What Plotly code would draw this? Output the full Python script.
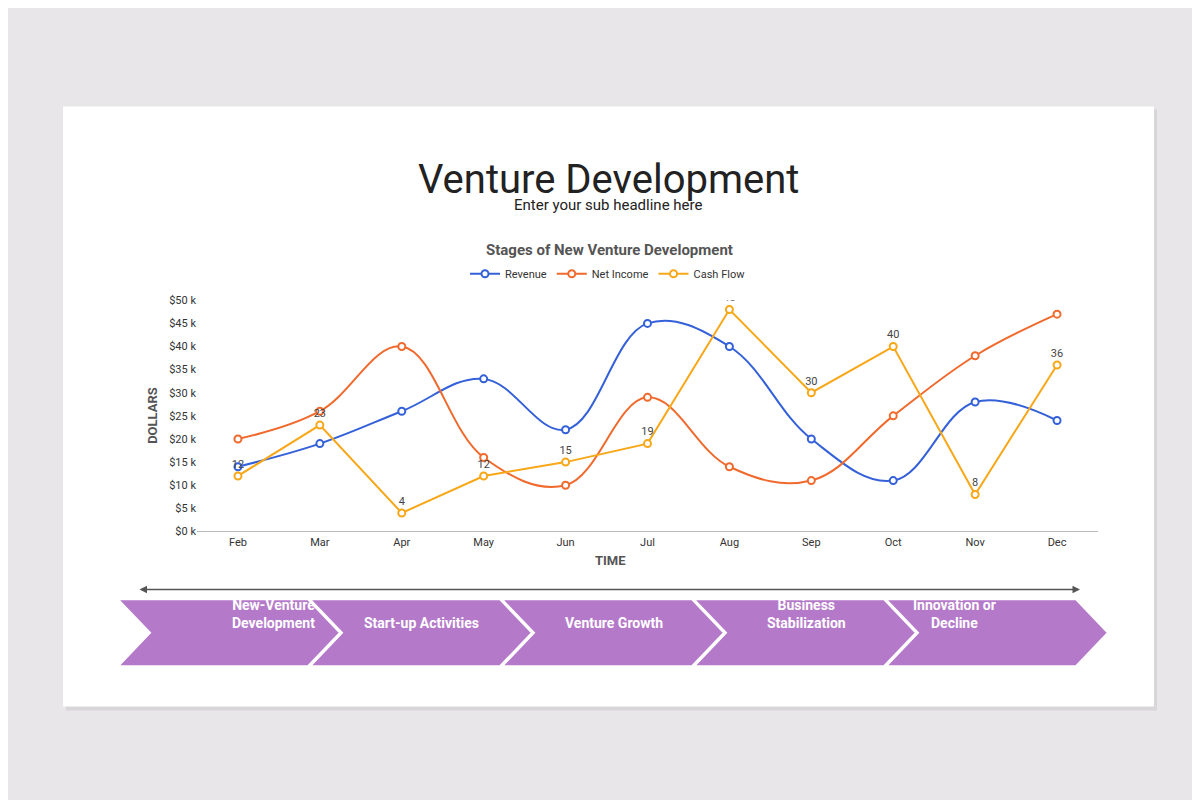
import plotly.graph_objects as go

months = ["Feb", "Mar", "Apr", "May", "Jun", "Jul", "Aug", "Sep", "Oct", "Nov", "Dec"]
revenue = [14, 19, 26, 33, 22, 45, 40, 20, 11, 28, 24]
net_income = [20, 26, 40, 16, 10, 29, 14, 11, 25, 38, 47]
cash_flow = [12, 23, 4, 12, 15, 19, 48, 30, 40, 8, 36]
stages = ["New-Venture<br>Development", "Start-up Activities", "Venture Growth",
          "Business<br>Stabilization", "Innovation or<br>Decline"]
y_ticks = list(range(0, 55, 5))
y_labels = ["$%d k" % v for v in y_ticks]

W, H = 1200, 800
px = lambda x: x / W
py = lambda y: 1 - y / H

fig = go.Figure()
for name, vals, col, shape in [("Revenue", revenue, "#3461d9", "spline"),
                               ("Net Income", net_income, "#f06a2d", "spline"),
                               ("Cash Flow", cash_flow, "#f7a717", "linear")]:
    fig.add_trace(go.Scatter(
        x=months, y=vals, name=name,
        mode="lines+markers+text" if name == "Cash Flow" else "lines+markers",
        text=[str(v) for v in vals] if name == "Cash Flow" else None,
        textposition="top center", textfont=dict(size=11, color="#444"),
        line=dict(color=col, width=2, shape=shape, smoothing=1.1),
        marker=dict(size=7, color="white", line=dict(color=col, width=2)),
    ))

shapes = [
    dict(type="rect", xref="paper", yref="paper", x0=px(58), x1=px(1149), y0=py(708), y1=py(97),
         fillcolor="#d8d6d8", line_width=0, layer="below"),
    dict(type="rect", xref="paper", yref="paper", x0=px(55), x1=px(1146), y0=py(704), y1=py(94),
         fillcolor="white", line_width=0, layer="below"),
]
annotations = [
    dict(text="Venture Development", x=0.5, y=py(142), xref="paper", yref="paper",
         showarrow=False, font=dict(size=40, color="#222")),
    dict(text="Enter your sub headline here", x=0.5, y=py(183), xref="paper", yref="paper",
         showarrow=False, font=dict(size=15, color="#222")),
    dict(text="<b>Stages of New Venture Development</b>", x=px(601), y=py(229), xref="paper",
         yref="paper", showarrow=False, font=dict(size=15, color="#555")),
    dict(text="<b>DOLLARS</b>", x=px(135), y=py(408), xref="paper", yref="paper", textangle=-90,
         showarrow=False, font=dict(size=13, color="#555")),
    dict(text="<b>TIME</b>", x=px(602), y=py(565), xref="paper", yref="paper",
         showarrow=False, font=dict(size=13, color="#555")),
    dict(x=px(1072), y=py(585), ax=-942, ay=0, xref="paper", yref="paper",
         showarrow=True, arrowhead=2, arrowside="end+start",
         arrowsize=1, arrowwidth=1.5, arrowcolor="#555", text=""),
]
top, bot, mid = 595, 663, 629
for i, s in enumerate(stages):
    x0 = 110 + 192 * i
    x1 = x0 + 190
    d = "M %f %f L %f %f L %f %f L %f %f L %f %f L %f %f Z" % (
        px(x0), py(top), px(x1), py(top), px(x1 + 32), py(mid),
        px(x1), py(bot), px(x0), py(bot), px(x0 + 32), py(mid))
    shapes.append(dict(type="path", xref="paper", yref="paper", path=d,
                       fillcolor="#b579ca", line=dict(color="white", width=2)))
    annotations.append(dict(text="<b>%s</b>" % s, x=px(x0 + 112), y=py(mid), xref="paper",
                            yref="paper", showarrow=False, font=dict(size=14, color="white")))

fig.update_layout(
    width=W, height=H, margin=dict(l=0, r=0, t=0, b=0),
    paper_bgcolor="#e8e6e8", plot_bgcolor="white",
    font=dict(family="Roboto", color="#333"),
    shapes=shapes, annotations=annotations,
    legend=dict(orientation="h", x=0.5, xanchor="center", y=py(264), yanchor="middle",
                font=dict(size=11), bgcolor="rgba(0,0,0,0)"),
    xaxis=dict(domain=[px(189), px(1090)], range=[-0.5, 10.5], showgrid=False,
               showline=True, linecolor="#bbb", tickfont=dict(size=11), ticks=""),
    yaxis=dict(domain=[py(526), py(291)], range=[0, 50], tickvals=y_ticks, ticktext=y_labels,
               showgrid=False, zeroline=False, tickfont=dict(size=11)),
)
fig.write_html("out.html")
